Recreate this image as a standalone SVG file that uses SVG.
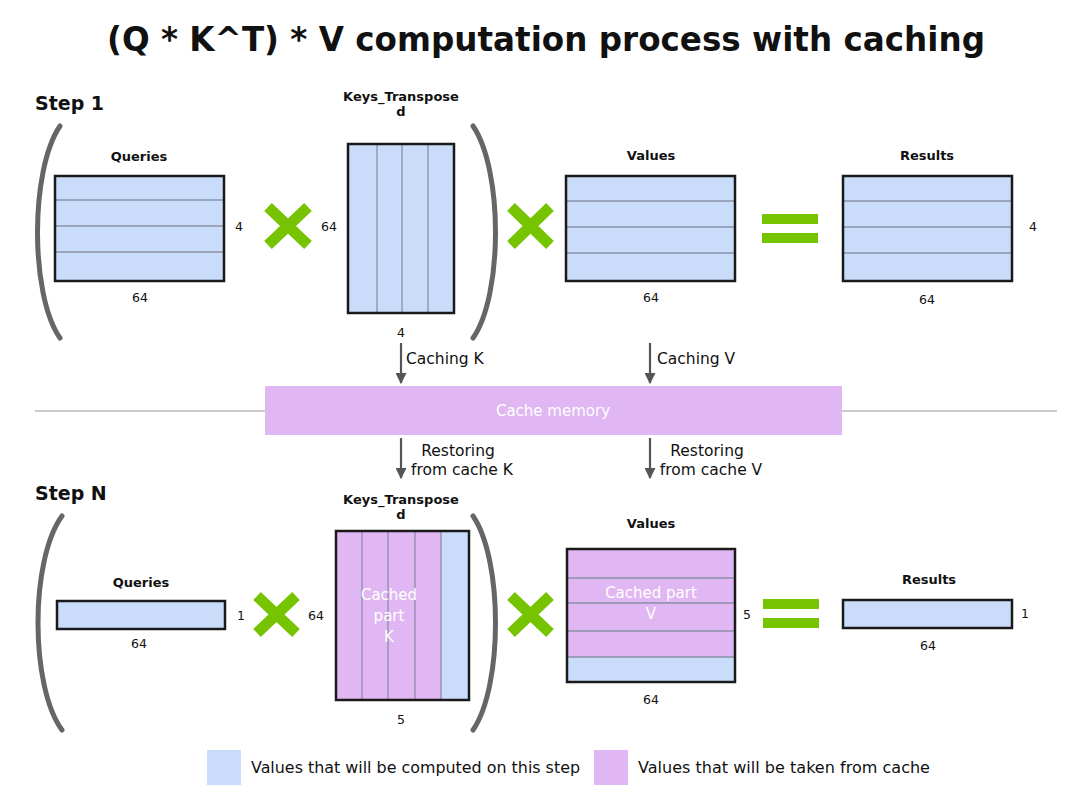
<svg xmlns="http://www.w3.org/2000/svg" width="1080" height="802" viewBox="0 0 1080 802">
<style>
text{font-family:"DejaVu Sans","Liberation Sans",sans-serif;fill:#111}
.t{font-size:34px;font-weight:bold;text-anchor:middle}
.step{font-size:19px;font-weight:bold}
.lbl{font-size:13px;font-weight:bold;text-anchor:middle}
.dim{font-size:12.5px;text-anchor:middle}
.cap{font-size:15.5px}
.ctr{text-anchor:middle}
.wt{fill:#fff;font-size:15px;text-anchor:middle}
.blue{fill:#c9ddfa}
.purp{fill:#e0b7f2}
.box{fill:none;stroke:#1a1a1a;stroke-width:2.5}
.row{stroke:#8a90a6;stroke-width:1.3}
.brk{fill:none;stroke:#666;stroke-width:5;stroke-linecap:round}
.x{stroke:#76c400;stroke-width:11}
.eq{fill:#76c400}
.arr{stroke:#555;stroke-width:2.2}
</style>
<defs>
<marker id="ah" viewBox="0 0 10 10" refX="9" refY="5" markerWidth="5" markerHeight="5" orient="auto">
<path d="M0,0 L10,5 L0,10 z" fill="#555"/>
</marker>
</defs>
<rect width="1080" height="802" fill="#fff"/>
<text class="t" x="546" y="51" textLength="878" lengthAdjust="spacingAndGlyphs">(Q * K^T) * V computation process with caching</text>

<line x1="35" y1="411" x2="1057" y2="411" stroke="#bbb" stroke-width="1.5"/>

<g id="step1">
<text class="step" x="35" y="110">Step 1</text>
<path class="brk" d="M60,126 C30,170 30,295 60,338"/>
<path class="brk" d="M473,126 C503,170 503,295 473,338"/>
</g>

<g id="queries1">
<text class="lbl" x="139" y="161">Queries</text>
<rect class="blue" x="55" y="176" width="169" height="105"/>
<line class="row" x1="55" y1="200" x2="224" y2="200"/>
<line class="row" x1="55" y1="226" x2="224" y2="226"/>
<line class="row" x1="55" y1="252" x2="224" y2="252"/>
<rect class="box" x="55" y="176" width="169" height="105"/>
<text class="dim" x="239" y="231">4</text>
<text class="dim" x="140" y="302">64</text>
</g>

<g id="mul1a"><path class="x" d="M268,207 L308,245 M308,207 L268,245"/></g>

<g id="keys1">
<text class="lbl" x="401" y="101">Keys_Transpose</text>
<text class="lbl" x="401" y="116">d</text>
<rect class="blue" x="348" y="144" width="106" height="169"/>
<line class="row" x1="377" y1="144" x2="377" y2="313"/>
<line class="row" x1="402" y1="144" x2="402" y2="313"/>
<line class="row" x1="428" y1="144" x2="428" y2="313"/>
<rect class="box" x="348" y="144" width="106" height="169"/>
<text class="dim" x="329" y="231">64</text>
<text class="dim" x="401" y="337">4</text>
</g>

<g id="mul1b"><path class="x" d="M511,207 L550,245 M550,207 L511,245"/></g>

<g id="values1">
<text class="lbl" x="651" y="160">Values</text>
<rect class="blue" x="566" y="176" width="169" height="105"/>
<line class="row" x1="566" y1="201" x2="735" y2="201"/>
<line class="row" x1="566" y1="227" x2="735" y2="227"/>
<line class="row" x1="566" y1="253" x2="735" y2="253"/>
<rect class="box" x="566" y="176" width="169" height="105"/>
<text class="dim" x="651" y="302">64</text>
</g>

<g id="eq1">
<rect class="eq" x="762" y="214" width="56" height="10"/>
<rect class="eq" x="762" y="233" width="56" height="10"/>
</g>

<g id="results1">
<text class="lbl" x="927" y="160">Results</text>
<rect class="blue" x="843" y="176" width="169" height="105"/>
<line class="row" x1="843" y1="201" x2="1012" y2="201"/>
<line class="row" x1="843" y1="227" x2="1012" y2="227"/>
<line class="row" x1="843" y1="253" x2="1012" y2="253"/>
<rect class="box" x="843" y="176" width="169" height="105"/>
<text class="dim" x="1033" y="231">4</text>
<text class="dim" x="927" y="304">64</text>
</g>

<g id="cache">
<rect class="purp" x="265" y="386" width="577" height="49"/>
<text class="wt" x="553" y="416">Cache memory</text>
</g>

<g id="connectors">
<line class="arr" x1="401" y1="343" x2="401" y2="383" marker-end="url(#ah)"/>
<line class="arr" x1="650" y1="343" x2="650" y2="383" marker-end="url(#ah)"/>
<line class="arr" x1="401" y1="438" x2="401" y2="478" marker-end="url(#ah)"/>
<line class="arr" x1="650" y1="438" x2="650" y2="478" marker-end="url(#ah)"/>
<text class="cap" x="406" y="364">Caching K</text>
<text class="cap" x="657" y="364">Caching V</text>
<text class="cap ctr" x="458" y="456">Restoring</text>
<text class="cap ctr" x="462" y="475">from cache K</text>
<text class="cap ctr" x="707" y="456">Restoring</text>
<text class="cap ctr" x="711" y="475">from cache V</text>
</g>

<g id="stepN">
<text class="step" x="35" y="500">Step N</text>
<path class="brk" d="M62,516 C30,560 30,686 62,730"/>
<path class="brk" d="M473,516 C503,560 503,686 473,730"/>
</g>

<g id="queriesN">
<text class="lbl" x="141" y="587">Queries</text>
<rect class="blue" x="57" y="601" width="168" height="28"/>
<rect class="box" x="57" y="601" width="168" height="28"/>
<text class="dim" x="241" y="620">1</text>
<text class="dim" x="139" y="648">64</text>
</g>

<g id="mulNa"><path class="x" d="M257,596 L296,633 M296,596 L257,633"/></g>

<g id="keysN">
<text class="lbl" x="401" y="504">Keys_Transpose</text>
<text class="lbl" x="401" y="519">d</text>
<rect class="purp" x="336" y="531" width="105" height="169"/>
<rect class="blue" x="441" y="531" width="28" height="169"/>
<line class="row" x1="362" y1="531" x2="362" y2="700"/>
<line class="row" x1="388" y1="531" x2="388" y2="700"/>
<line class="row" x1="415" y1="531" x2="415" y2="700"/>
<line class="row" x1="441" y1="531" x2="441" y2="700"/>
<rect class="box" x="336" y="531" width="133" height="169"/>
<text class="wt" x="389" y="600">Cached</text>
<text class="wt" x="389" y="621">part</text>
<text class="wt" x="389" y="642">K</text>
<text class="dim" x="316" y="620">64</text>
<text class="dim" x="401" y="724">5</text>
</g>

<g id="mulNb"><path class="x" d="M511,596 L550,633 M550,596 L511,633"/></g>

<g id="valuesN">
<text class="lbl" x="651" y="528">Values</text>
<rect class="purp" x="567" y="549" width="168" height="108"/>
<rect class="blue" x="567" y="657" width="168" height="25"/>
<line class="row" x1="567" y1="578" x2="735" y2="578"/>
<line class="row" x1="567" y1="603" x2="735" y2="603"/>
<line class="row" x1="567" y1="631" x2="735" y2="631"/>
<line class="row" x1="567" y1="657" x2="735" y2="657"/>
<rect class="box" x="567" y="549" width="168" height="133"/>
<text class="wt" x="651" y="598">Cached part</text>
<text class="wt" x="651" y="619">V</text>
<text class="dim" x="747" y="619">5</text>
<text class="dim" x="651" y="704">64</text>
</g>

<g id="eqN">
<rect class="eq" x="763" y="599" width="56" height="10"/>
<rect class="eq" x="763" y="618" width="56" height="10"/>
</g>

<g id="resultsN">
<text class="lbl" x="929" y="584">Results</text>
<rect class="blue" x="843" y="600" width="169" height="28"/>
<rect class="box" x="843" y="600" width="169" height="28"/>
<text class="dim" x="1025" y="618">1</text>
<text class="dim" x="928" y="650">64</text>
</g>

<g id="legend">
<rect class="blue" x="207" y="750" width="34" height="35"/>
<text class="cap" x="251" y="773" textLength="329" lengthAdjust="spacingAndGlyphs">Values that will be computed on this step</text>
<rect class="purp" x="594" y="750" width="34" height="35"/>
<text class="cap" x="638" y="773" textLength="292" lengthAdjust="spacingAndGlyphs">Values that will be taken from cache</text>
</g>
</svg>
